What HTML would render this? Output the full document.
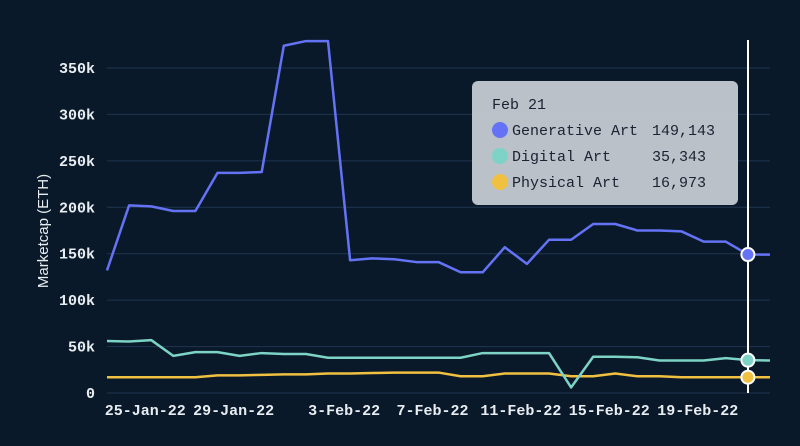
<!DOCTYPE html>
<html><head><meta charset="utf-8"><style>
html,body{margin:0;padding:0;background:#0a1929;}
svg{display:block}
.tk{font-family:"Liberation Mono",monospace;font-size:15px;font-weight:bold;fill:#e8edf2}
</style></head><body>
<svg id="chart" width="800" height="446" viewBox="0 0 800 446">
<rect width="800" height="446" fill="#0a1929"/>
<g id="grid"></g><g id="yticks"></g><g id="xticks"></g><g id="lines"></g>
<text transform="translate(48,231) rotate(-90)" text-anchor="middle" font-family="Liberation Sans, sans-serif" font-size="15" fill="#e8edf2">Marketcap (ETH)</text>
<line x1="748" y1="40" x2="748" y2="393" stroke="#ffffff" stroke-width="2"/>
<g id="dots"></g>
<g font-family="Liberation Mono, monospace" font-size="15" fill="#1a2233">
<rect x="472" y="81" width="266" height="124" rx="6" fill="#c4cad1" fill-opacity="0.95"/>
<text x="492" y="109">Feb 21</text>
<circle cx="500" cy="130" r="8" fill="#6473f5"/>
<text x="512" y="135">Generative Art</text>
<text x="652" y="135">149,143</text>
<circle cx="500" cy="156" r="8" fill="#7dd3c5"/>
<text x="512" y="161">Digital Art</text>
<text x="652" y="161">35,343</text>
<circle cx="500" cy="182" r="8" fill="#f0c040"/>
<text x="512" y="187">Physical Art</text>
<text x="652" y="187">16,973</text>
</g>
</svg>
<script>
const yTicks=[0,50000,100000,150000,200000,250000,300000,350000];
const yTickLabels=["0","50k","100k","150k","200k","250k","300k","350k"];
const xTickIdx=[2,6,11,15,19,23,27];
const xTickLabels=["25-Jan-22","29-Jan-22","3-Feb-22","7-Feb-22","11-Feb-22","15-Feb-22","19-Feb-22"];
const generative=[132,202,201,196,196,237,237,238,374,379,379,143,145,144,141,141,130,130,157,139,165,165,182,182,175,175,174,163,163,149.143,149];
const digital=[56,55.5,57,40,44,44,40,43,42,42,38,38,38,38,38,38,38,43,43,43,43,6,39,39,38.5,35,35,35,37.5,35.343,35];
const physical=[17,17,17,17,17,19,19,19.5,20,20,21,21,21.5,22,22,22,18,18,21,21,21,18,18,21,18,18,17,17,17,16.973,17];
const hoverIdx=29;
const ns="http://www.w3.org/2000/svg";
const x=i=>107+i*22.1;
const y=v=>393-v/350000*325;
const yk=v=>y(v*1000);
const mk=(t,a,p)=>{const e=document.createElementNS(ns,t);for(const k in a)e.setAttribute(k,a[k]);p.appendChild(e);return e;};
const grid=document.getElementById('grid'),yt=document.getElementById('yticks'),xt=document.getElementById('xticks'),lines=document.getElementById('lines'),dots=document.getElementById('dots');
yTicks.forEach((v,i)=>{
 const l=mk('line',{x1:107,x2:770,y1:y(v),y2:y(v),stroke:'#1f3550','stroke-width':1},grid);
 
 
 const t=mk('text',{x:95,y:y(v)+5,'text-anchor':'end',class:'tk'},yt);
 t.textContent=yTickLabels[i];
 
 
});
xTickIdx.forEach((ix,i)=>{
 const t=mk('text',{x:x(ix)-6,y:415,'text-anchor':'middle',class:'tk'},xt);
 t.textContent=xTickLabels[i];
 
 
});
[[physical,'#f0c040','physical-art-line'],[digital,'#7dd3c5','digital-art-line'],[generative,'#6473f5','generative-art-line']].forEach(([d,c,n])=>{
 const p=mk('polyline',{points:d.map((v,i)=>x(i)+','+yk(v)).join(' '),fill:'none',stroke:c,'stroke-width':2.5,'stroke-linejoin':'round'},lines);
 
 
 const dt=mk('circle',{cx:x(hoverIdx),cy:yk(d[hoverIdx]),r:6.5,fill:c,stroke:'#ffffff','stroke-width':2},dots);
 
 
});
</script>
</body></html>
